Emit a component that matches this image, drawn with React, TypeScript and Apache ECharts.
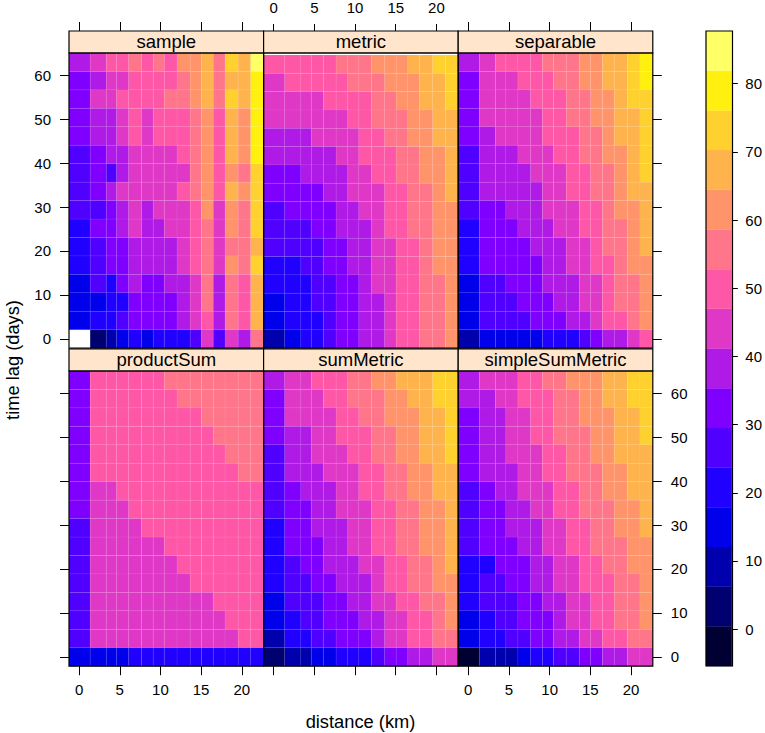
import React, { useEffect, useRef } from "react";
import * as echarts from "echarts";

const distanceEdges = [-1.24, 1.36, 3.34, 4.62, 6.1, 7.67, 9.11, 10.47, 12.04, 13.65, 15.05, 16.49, 17.94, 19.55, 21.1, 22.68];
const lagEdges = [-2.13, 2.07, 6.27, 10.47, 14.67, 18.87, 23.07, 27.27, 31.47, 35.67, 39.87, 44.07, 48.27, 52.47, 56.67, 60.87, 65.07];
const distanceTicks = [0, 5, 10, 15, 20];
const lagTicks = [0, 10, 20, 30, 40, 50, 60];
const legendTicks = [0, 10, 20, 30, 40, 50, 60, 70, 80];
const legendBreaks = [-5.4, 0.42, 6.24, 12.06, 17.88, 23.7, 29.52, 35.34, 41.16, 46.98, 52.8, 58.62, 64.44, 70.26, 76.08, 81.9, 87.72];
const palette = ["#000033", "#000070", "#0000AD", "#0000EB", "#2000FF", "#5000FF", "#8000FF", "#AF1AE6", "#DF38C7", "#FF57A8", "#FF758A", "#FF946B", "#FFB34D", "#FFD12E", "#FFF00F", "#FFFF66"];

// rows run from the largest time lag (top) to lag 0 (bottom)
const sample = [
  [38, 44, 50, 50, 56, 50, 56, 50, 62, 62, 67, 56, 73, 67, 85],
  [32, 38, 44, 44, 50, 50, 50, 50, 56, 62, 67, 56, 67, 67, 79],
  [32, 44, 44, 50, 50, 50, 50, 56, 56, 62, 67, 56, 73, 67, 79],
  [32, 38, 38, 44, 50, 44, 50, 50, 50, 56, 62, 50, 67, 62, 79],
  [32, 38, 38, 44, 50, 44, 50, 50, 50, 56, 62, 50, 67, 62, 79],
  [27, 32, 38, 38, 44, 44, 44, 44, 50, 56, 62, 50, 67, 62, 79],
  [27, 32, 27, 38, 44, 44, 44, 44, 44, 56, 62, 50, 62, 56, 73],
  [27, 32, 38, 44, 44, 44, 44, 44, 50, 56, 62, 50, 67, 62, 73],
  [27, 27, 32, 38, 44, 38, 44, 44, 44, 50, 62, 44, 62, 56, 73],
  [21, 32, 32, 38, 44, 38, 38, 44, 44, 50, 56, 44, 62, 56, 73],
  [21, 27, 32, 32, 38, 38, 38, 38, 44, 50, 56, 44, 56, 56, 67],
  [21, 27, 32, 32, 38, 38, 38, 38, 44, 50, 56, 44, 62, 56, 73],
  [15, 27, 21, 32, 38, 32, 32, 38, 38, 44, 56, 38, 56, 50, 67],
  [15, 15, 21, 21, 32, 32, 32, 32, 38, 44, 56, 38, 56, 50, 67],
  [15, 21, 21, 27, 32, 32, 32, 32, 38, 44, 50, 38, 56, 50, 67],
  [null, 3, 9, 15, 21, 15, 21, 21, 21, 27, 44, 27, 44, 38, 56],
];
const metric = [
  [50, 50, 50, 50, 50, 56, 56, 56, 62, 62, 62, 67, 67, 73, 73],
  [44, 50, 50, 50, 50, 50, 56, 56, 56, 62, 62, 62, 67, 67, 73],
  [44, 44, 44, 44, 50, 50, 50, 50, 56, 56, 62, 62, 67, 67, 73],
  [44, 44, 44, 44, 44, 44, 50, 50, 56, 56, 56, 62, 62, 67, 67],
  [38, 38, 38, 44, 44, 44, 44, 50, 50, 56, 56, 62, 62, 67, 67],
  [38, 38, 38, 38, 38, 44, 44, 50, 50, 50, 56, 56, 62, 62, 67],
  [32, 32, 38, 38, 38, 38, 44, 44, 50, 50, 56, 56, 62, 62, 67],
  [32, 32, 32, 32, 38, 38, 44, 44, 44, 50, 50, 56, 56, 62, 67],
  [27, 32, 32, 32, 32, 38, 38, 44, 44, 50, 50, 56, 56, 62, 62],
  [27, 27, 27, 32, 32, 38, 38, 38, 44, 50, 50, 56, 56, 62, 62],
  [27, 27, 27, 27, 32, 32, 38, 38, 44, 44, 50, 50, 56, 62, 62],
  [21, 21, 27, 27, 32, 32, 38, 38, 44, 44, 50, 50, 56, 62, 62],
  [21, 21, 21, 27, 27, 32, 32, 38, 44, 44, 50, 50, 56, 56, 62],
  [15, 21, 21, 27, 27, 32, 32, 38, 38, 44, 50, 50, 56, 56, 62],
  [15, 21, 21, 21, 27, 32, 32, 38, 38, 44, 50, 50, 56, 56, 62],
  [9, 15, 21, 21, 27, 32, 32, 38, 38, 44, 50, 50, 56, 56, 62],
];
const separable = [
  [38, 44, 50, 50, 50, 50, 56, 56, 56, 62, 62, 67, 67, 73, 79],
  [32, 44, 44, 44, 50, 50, 50, 56, 56, 62, 62, 67, 67, 73, 79],
  [32, 44, 44, 44, 44, 50, 50, 50, 56, 56, 62, 62, 67, 73, 73],
  [32, 44, 44, 44, 44, 44, 50, 50, 56, 56, 62, 62, 67, 67, 73],
  [32, 38, 44, 44, 44, 44, 50, 50, 50, 56, 56, 62, 67, 67, 73],
  [27, 38, 38, 38, 44, 44, 44, 50, 50, 56, 56, 62, 62, 67, 73],
  [27, 38, 38, 38, 38, 44, 44, 44, 50, 50, 56, 56, 62, 67, 73],
  [27, 38, 38, 38, 38, 38, 44, 44, 50, 50, 56, 56, 62, 67, 67],
  [27, 32, 32, 38, 38, 38, 44, 44, 44, 50, 50, 56, 62, 62, 67],
  [21, 32, 32, 32, 38, 38, 38, 44, 44, 50, 50, 56, 56, 62, 67],
  [21, 32, 32, 32, 32, 38, 38, 38, 44, 44, 50, 56, 56, 62, 67],
  [21, 32, 32, 32, 32, 32, 38, 38, 44, 44, 50, 50, 56, 62, 62],
  [15, 27, 27, 32, 32, 32, 38, 38, 38, 44, 44, 50, 56, 56, 62],
  [15, 27, 27, 27, 32, 32, 32, 38, 38, 44, 44, 50, 56, 56, 62],
  [15, 27, 27, 27, 27, 32, 32, 32, 38, 38, 44, 50, 50, 56, 62],
  [9, 15, 15, 15, 15, 15, 21, 21, 21, 27, 32, 38, 38, 44, 50],
];
const productSum = [
  [32, 50, 50, 50, 50, 50, 50, 56, 56, 56, 56, 56, 56, 56, 56],
  [32, 50, 50, 50, 50, 50, 50, 50, 56, 56, 56, 56, 56, 56, 56],
  [32, 50, 50, 50, 50, 50, 50, 50, 50, 50, 56, 56, 56, 56, 56],
  [32, 50, 50, 50, 50, 50, 50, 50, 50, 50, 50, 56, 56, 56, 56],
  [32, 50, 50, 50, 50, 50, 50, 50, 50, 50, 50, 50, 56, 56, 56],
  [32, 50, 50, 50, 50, 50, 50, 50, 50, 50, 50, 50, 50, 56, 56],
  [32, 44, 44, 50, 50, 50, 50, 50, 50, 50, 50, 50, 50, 50, 50],
  [32, 44, 44, 44, 50, 50, 50, 50, 50, 50, 50, 50, 50, 50, 50],
  [27, 44, 44, 44, 44, 50, 50, 50, 50, 50, 50, 50, 50, 50, 50],
  [27, 44, 44, 44, 44, 44, 44, 50, 50, 50, 50, 50, 50, 50, 50],
  [27, 44, 44, 44, 44, 44, 44, 44, 50, 50, 50, 50, 50, 50, 50],
  [27, 44, 44, 44, 44, 44, 44, 44, 44, 50, 50, 50, 50, 50, 50],
  [27, 44, 44, 44, 44, 44, 44, 44, 44, 44, 44, 50, 50, 50, 50],
  [27, 44, 44, 44, 44, 44, 44, 44, 44, 44, 44, 44, 50, 50, 50],
  [27, 44, 44, 44, 44, 44, 44, 44, 44, 44, 44, 44, 44, 50, 50],
  [15, 15, 15, 15, 21, 21, 21, 21, 21, 21, 21, 21, 21, 21, 21],
];
const sumMetric = [
  [38, 44, 44, 50, 50, 50, 56, 56, 62, 62, 67, 67, 67, 73, 73],
  [32, 44, 44, 44, 50, 50, 56, 56, 56, 62, 62, 67, 67, 73, 73],
  [32, 44, 44, 44, 44, 50, 50, 56, 56, 62, 62, 62, 67, 67, 73],
  [32, 38, 38, 44, 44, 50, 50, 50, 56, 56, 62, 62, 67, 67, 73],
  [27, 38, 38, 44, 44, 44, 50, 50, 56, 56, 62, 62, 67, 67, 73],
  [27, 38, 38, 38, 44, 44, 44, 50, 50, 56, 56, 62, 62, 67, 67],
  [27, 32, 38, 38, 38, 44, 44, 50, 50, 56, 56, 62, 62, 67, 67],
  [27, 32, 32, 38, 38, 44, 44, 44, 50, 50, 56, 56, 62, 62, 67],
  [21, 32, 32, 38, 38, 38, 44, 44, 50, 50, 56, 56, 62, 62, 67],
  [21, 32, 32, 32, 38, 38, 44, 44, 50, 50, 56, 56, 62, 62, 67],
  [21, 27, 32, 32, 38, 38, 38, 44, 44, 50, 50, 56, 56, 62, 67],
  [21, 27, 27, 32, 32, 38, 38, 38, 44, 50, 50, 56, 56, 62, 62],
  [15, 27, 27, 27, 32, 32, 38, 38, 44, 44, 50, 50, 56, 56, 62],
  [15, 21, 27, 27, 32, 32, 32, 38, 38, 44, 44, 50, 50, 56, 62],
  [9, 21, 21, 27, 27, 32, 32, 32, 38, 44, 44, 50, 50, 56, 56],
  [3, 9, 9, 15, 15, 21, 21, 21, 27, 32, 32, 38, 38, 44, 44],
];
const simpleSumMetric = [
  [38, 44, 44, 44, 50, 50, 56, 56, 62, 62, 62, 67, 67, 73, 73],
  [38, 38, 44, 44, 50, 50, 50, 56, 56, 62, 62, 67, 67, 73, 73],
  [32, 38, 38, 44, 44, 50, 50, 56, 56, 62, 62, 62, 67, 67, 73],
  [32, 38, 38, 44, 44, 50, 50, 56, 56, 56, 62, 62, 67, 67, 73],
  [32, 38, 38, 44, 44, 44, 50, 50, 56, 56, 62, 62, 67, 67, 67],
  [32, 38, 38, 38, 44, 44, 50, 50, 56, 56, 56, 62, 62, 67, 67],
  [27, 32, 38, 38, 44, 44, 44, 50, 50, 56, 56, 62, 62, 67, 67],
  [27, 32, 32, 38, 38, 44, 44, 50, 50, 56, 56, 56, 62, 62, 67],
  [27, 32, 32, 38, 38, 38, 44, 44, 50, 50, 56, 56, 62, 62, 67],
  [27, 32, 32, 32, 38, 38, 44, 44, 50, 50, 56, 56, 56, 62, 62],
  [21, 21, 32, 32, 32, 38, 38, 44, 44, 50, 50, 56, 56, 62, 62],
  [21, 27, 27, 32, 32, 38, 38, 44, 44, 50, 50, 50, 56, 56, 62],
  [21, 27, 27, 27, 32, 32, 38, 38, 44, 44, 50, 50, 56, 56, 62],
  [15, 21, 27, 27, 32, 32, 32, 38, 44, 44, 50, 50, 56, 56, 62],
  [15, 21, 21, 27, 27, 32, 32, 38, 38, 44, 44, 50, 50, 56, 56],
  [-3, 9, 9, 9, 15, 21, 21, 27, 27, 32, 32, 38, 38, 44, 44],
];

const panelNames = ["sample", "metric", "separable", "productSum", "sumMetric", "simpleSumMetric"];
const panelValues = [sample, metric, separable, productSum, sumMetric, simpleSumMetric];

const FONT = "Liberation Sans";
const LEFT = 69;
const PANEL_W = 194.6;
const STRIP_H = 22;
const ROW_TOPS = [53, 371];
const PANEL_H = 295.2;
const STRIP_TOPS = [31, 349];
const LEGEND = { left: 706, top: 31, width: 26.5, height: 635 };

function colorOf(v: number) {
  for (let i = 0; i < palette.length; i++) {
    if (v < legendBreaks[i + 1]) return palette[i];
  }
  return palette[palette.length - 1];
}

function renderCell(_: any, api: any) {
  const v = api.value(4);
  if (v == null || Number.isNaN(v)) return null;
  const a = api.coord([api.value(0), api.value(3)]);
  const b = api.coord([api.value(1), api.value(2)]);
  return {
    type: "rect",
    shape: { x: a[0], y: a[1], width: b[0] - a[0], height: b[1] - a[1] },
    style: { fill: colorOf(v), stroke: "rgba(255,255,255,0.09)", lineWidth: 0.6 },
  };
}

function tickAxis(base: any, values: number[], labelled: boolean, shown = true, tickLength = 9, margin = 18) {
  return {
    type: "value",
    ...base,
    axisLine: { show: false, onZero: false },
    splitLine: { show: false },
    axisTick: { show: shown, length: tickLength, customValues: values, lineStyle: { color: "#000", width: 1 } },
    axisLabel: { show: labelled, customValues: values, color: "#000", fontFamily: FONT, fontSize: 15, margin },
  };
}

function buildOption() {
  const grid: any[] = [];
  const xAxis: any[] = [];
  const yAxis: any[] = [];
  const series: any[] = [];
  const graphic: any[] = [];

  panelNames.forEach((name, p) => {
    const col = p % 3;
    const row = p < 3 ? 0 : 1;
    const left = LEFT + col * PANEL_W;
    const top = ROW_TOPS[row];
    grid.push({ left, top, width: PANEL_W, height: PANEL_H, containLabel: false });

    const xLabelled = p === 1 || p === 3 || p === 5;
    xAxis.push(
      tickAxis(
        {
          gridIndex: p,
          position: row === 0 ? "top" : "bottom",
          offset: row === 0 ? STRIP_H : 0,
          min: distanceEdges[0],
          max: distanceEdges[15],
        },
        distanceTicks,
        xLabelled,
        true,
        9,
        row === 0 ? 18 : 16
      )
    );
    const yTicks = col !== 1;
    const yLabelled = p === 0 || p === 5;
    yAxis.push(
      tickAxis({ gridIndex: p, position: col === 0 ? "left" : "right", min: lagEdges[0], max: lagEdges[16] }, lagTicks, yLabelled, yTicks)
    );

    const cells: any[] = [];
    panelValues[p].forEach((values, r) => {
      const lagIndex = 15 - r;
      values.forEach((v, c) => {
        cells.push([distanceEdges[c], distanceEdges[c + 1], lagEdges[lagIndex], lagEdges[lagIndex + 1], v]);
      });
    });
    series.push({
      type: "custom",
      name,
      xAxisIndex: p,
      yAxisIndex: p,
      renderItem: renderCell,
      encode: { x: [0, 1], y: [2, 3] },
      data: cells,
      silent: true,
    });

    graphic.push({
      type: "rect",
      z: 20,
      shape: { x: left, y: STRIP_TOPS[row], width: PANEL_W, height: STRIP_H },
      style: { fill: "#FFE5CC", stroke: "#000", lineWidth: 1.2 },
    });
    graphic.push({
      type: "text",
      z: 21,
      x: left + PANEL_W / 2,
      y: STRIP_TOPS[row] + STRIP_H / 2 - 0.5,
      style: { text: name, fill: "#000", font: `18.5px "${FONT}"`, align: "center", verticalAlign: "middle" },
    });
    graphic.push({
      type: "rect",
      z: 20,
      shape: { x: left, y: top, width: PANEL_W, height: PANEL_H },
      style: { fill: "none", stroke: "#000", lineWidth: 1.2 },
    });
  });

  // colour key
  const k = panelNames.length;
  grid.push({ left: LEGEND.left, top: LEGEND.top, width: LEGEND.width, height: LEGEND.height });
  xAxis.push({ type: "value", gridIndex: k, min: 0, max: 1, show: false });
  yAxis.push(
    tickAxis({ gridIndex: k, position: "right", min: legendBreaks[0], max: legendBreaks[16] }, legendTicks, true, true, 6, 13.5)
  );
  series.push({
    type: "custom",
    name: "key",
    xAxisIndex: k,
    yAxisIndex: k,
    renderItem: (_: any, api: any) => {
      const a = api.coord([0, api.value(1)]);
      const b = api.coord([1, api.value(0)]);
      return {
        type: "rect",
        shape: { x: a[0], y: a[1], width: b[0] - a[0], height: b[1] - a[1] },
        style: { fill: palette[api.value(2)], stroke: palette[api.value(2)], lineWidth: 0.3 },
      };
    },
    encode: { y: [0, 1] },
    data: palette.map((_, i) => [legendBreaks[i], legendBreaks[i + 1], i]),
    silent: true,
  });
  graphic.push({
    type: "rect",
    z: 20,
    shape: { x: LEGEND.left, y: LEGEND.top, width: LEGEND.width, height: LEGEND.height },
    style: { fill: "none", stroke: "#000", lineWidth: 1.2 },
  });

  graphic.push({
    type: "text",
    z: 21,
    x: 360.5,
    y: 721,
    style: { text: "distance (km)", fill: "#000", font: `18.3px "${FONT}"`, align: "center", verticalAlign: "middle" },
  });
  graphic.push({
    type: "text",
    z: 21,
    x: 12,
    y: 360,
    rotation: Math.PI / 2,
    style: { text: "time lag (days)", fill: "#000", font: `18.3px "${FONT}"`, align: "center", verticalAlign: "middle" },
  });

  return { animation: false, backgroundColor: "#fff", grid, xAxis, yAxis, series, graphic };
}

export default function App() {
  const ref = useRef<HTMLDivElement>(null);
  useEffect(() => {
    document.body.style.margin = "0";
    const chart = echarts.init(ref.current!, undefined, { renderer: "svg" });
    chart.setOption(buildOption() as any);
    return () => chart.dispose();
  }, []);
  return <div ref={ref} style={{ width: 765, height: 733 }} />;
}
